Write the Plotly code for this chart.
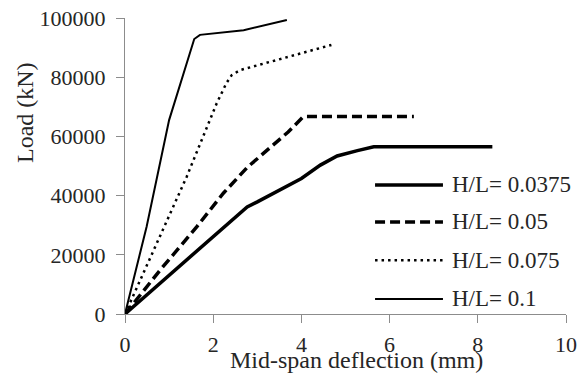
import plotly.graph_objects as go

# ---- data ----
series_names = ["H/L= 0.0375", "H/L= 0.05", "H/L= 0.075", "H/L= 0.1"]

x_0375 = [0, 2.77, 3.0, 4.0, 4.43, 4.81, 5.27, 5.64, 8.33]
y_0375 = [0, 36200, 37900, 45800, 50300, 53400, 55200, 56500, 56500]

x_005 = [0, 0.8, 1.63, 2.23, 2.77, 3.22, 3.7, 4.02, 4.1, 6.55]
y_005 = [0, 14900, 29500, 40800, 49500, 55400, 61500, 66300, 66700, 66700]

x_0075 = [0, 1.4, 2.08, 2.3, 2.42, 2.61, 4.68]
y_0075 = [0, 46400, 71200, 78000, 80700, 82400, 90900]

x_01 = [0, 0.49, 1.0, 1.57, 1.7, 2.69, 3.67]
y_01 = [0, 29500, 65500, 92900, 94300, 95900, 99300]

x_ticks = [0, 2, 4, 6, 8, 10]
y_ticks = [0, 20000, 40000, 60000, 80000, 100000]

styles = [
    dict(color="black", width=3.5, dash="solid"),
    dict(color="black", width=3.5, dash="10px,5px"),
    dict(color="black", width=2.5, dash="2.5px,4px"),
    dict(color="black", width=2, dash="solid"),
]
xs = [x_0375, x_005, x_0075, x_01]
ys = [y_0375, y_005, y_0075, y_01]

FONT = "'Liberation Serif', 'Times New Roman', Times, 'DejaVu Serif', serif"
TXT = "#262626"

fig = go.Figure()
for name, xv, yv, st in zip(series_names, xs, ys, styles):
    fig.add_trace(go.Scatter(x=xv, y=yv, mode="lines", name=name, line=st,
                             showlegend=False))

# custom legend (long line samples like the reference)
leg_rows = [0.436, 0.311, 0.182, 0.051]
for name, st, ry in zip(series_names, styles, leg_rows):
    fig.add_shape(type="line", xref="paper", yref="paper", x0=0.567, x1=0.721,
                  y0=ry, y1=ry, line=st)
    fig.add_annotation(xref="paper", yref="paper", x=0.737, y=ry, text=name,
                       showarrow=False, xanchor="left", yanchor="middle",
                       font=dict(family=FONT, size=23, color=TXT))

fig.add_annotation(xref="paper", yref="paper", x=0.526, y=-0.156,
                   text="Mid-span deflection (mm)", showarrow=False,
                   xanchor="center", yanchor="middle",
                   font=dict(family=FONT, size=24, color=TXT))
fig.add_annotation(xref="paper", yref="paper", x=-0.227, y=0.682,
                   text="Load (kN)", showarrow=False, textangle=-90,
                   xanchor="center", yanchor="middle",
                   font=dict(family=FONT, size=24, color=TXT))

axis_common = dict(showgrid=False, zeroline=False, showline=True,
                   linecolor="#8c8c8c", linewidth=1, ticks="outside",
                   ticklen=8, tickcolor="#8c8c8c", tickwidth=1,
                   automargin=False,
                   tickfont=dict(family=FONT, size=22, color=TXT))

fig.update_xaxes(range=[0, 10], tickvals=x_ticks,
                 ticktext=[str(v) for v in x_ticks],
                 ticklabelstandoff=3, **axis_common)
fig.update_yaxes(range=[0, 100000], tickvals=y_ticks,
                 ticktext=[str(v) for v in y_ticks],
                 ticklabelstandoff=6, **axis_common)

fig.update_layout(width=578, height=376,
                  margin=dict(l=125, r=12, t=18, b=62),
                  font=dict(family=FONT),
                  paper_bgcolor="white", plot_bgcolor="white",
                  showlegend=False)

fig.write_html("out.html", config={"displayModeBar": False},
               post_script="document.body.style.margin='0';")
